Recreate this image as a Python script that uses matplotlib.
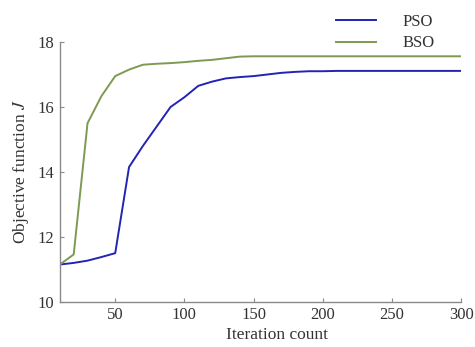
import matplotlib
matplotlib.use('Agg')
import matplotlib.pyplot as plt

iters = [10, 20, 30, 40, 50, 60, 70, 80, 90, 100, 110, 120, 130, 140, 150,
         160, 170, 180, 190, 200, 210, 220, 230, 240, 250, 260, 270, 280, 290, 300]
pso = [11.15, 11.2, 11.27, 11.38, 11.5, 14.15, 14.8, 15.4, 16.0, 16.3,
       16.65, 16.78, 16.88, 16.92, 16.95, 17.0, 17.05, 17.08, 17.1, 17.1,
       17.11, 17.11, 17.11, 17.11, 17.11, 17.11, 17.11, 17.11, 17.11, 17.11]
bso = [11.15, 11.46, 15.5, 16.33, 16.95, 17.15, 17.3, 17.33, 17.35, 17.38,
       17.42, 17.45, 17.5, 17.55, 17.56, 17.56, 17.56, 17.56, 17.56, 17.56,
       17.56, 17.56, 17.56, 17.56, 17.56, 17.56, 17.56, 17.56, 17.56, 17.56]
xticks = [50, 100, 150, 200, 250, 300]
yticks = [10, 12, 14, 16, 18]

plt.rcParams['font.family'] = ['Liberation Serif', 'DejaVu Serif']
plt.rcParams['mathtext.fontset'] = 'stix'

fig = plt.figure(figsize=(4.75, 3.47), dpi=100)
ax = fig.add_axes([0.126, 0.130, 0.845, 0.749])

ax.plot(iters, pso, color='#2323b4', linewidth=1.4, label='PSO')
ax.plot(iters, bso, color='#7d9a52', linewidth=1.4, label='BSO')

ax.set_xlim(10, 300)
ax.set_ylim(10, 18)
ax.set_xticks(xticks)
ax.set_yticks(yticks)

for s in ['top', 'right']:
    ax.spines[s].set_visible(False)
for s in ['left', 'bottom']:
    ax.spines[s].set_color('#8a8a8a')
    ax.spines[s].set_linewidth(1.0)
ax.tick_params(direction='in', length=3, color='#8a8a8a', labelsize=12,
               labelcolor='#333333', pad=4)

ax.set_xlabel('Iteration count', fontsize=12.5, color='#333333')
ax.xaxis.set_label_coords(0.54, -0.097)
ax.set_ylabel('Objective function $J$', fontsize=12.5, color='#333333', labelpad=5)

fig.legend(loc='upper left', bbox_to_anchor=(0.69, 0.985), frameon=False,
           fontsize=12, handlelength=2.4, handletextpad=1.6, labelspacing=0.35,
           borderpad=0, labelcolor='#333333')

fig.savefig('out.png', dpi=100)
